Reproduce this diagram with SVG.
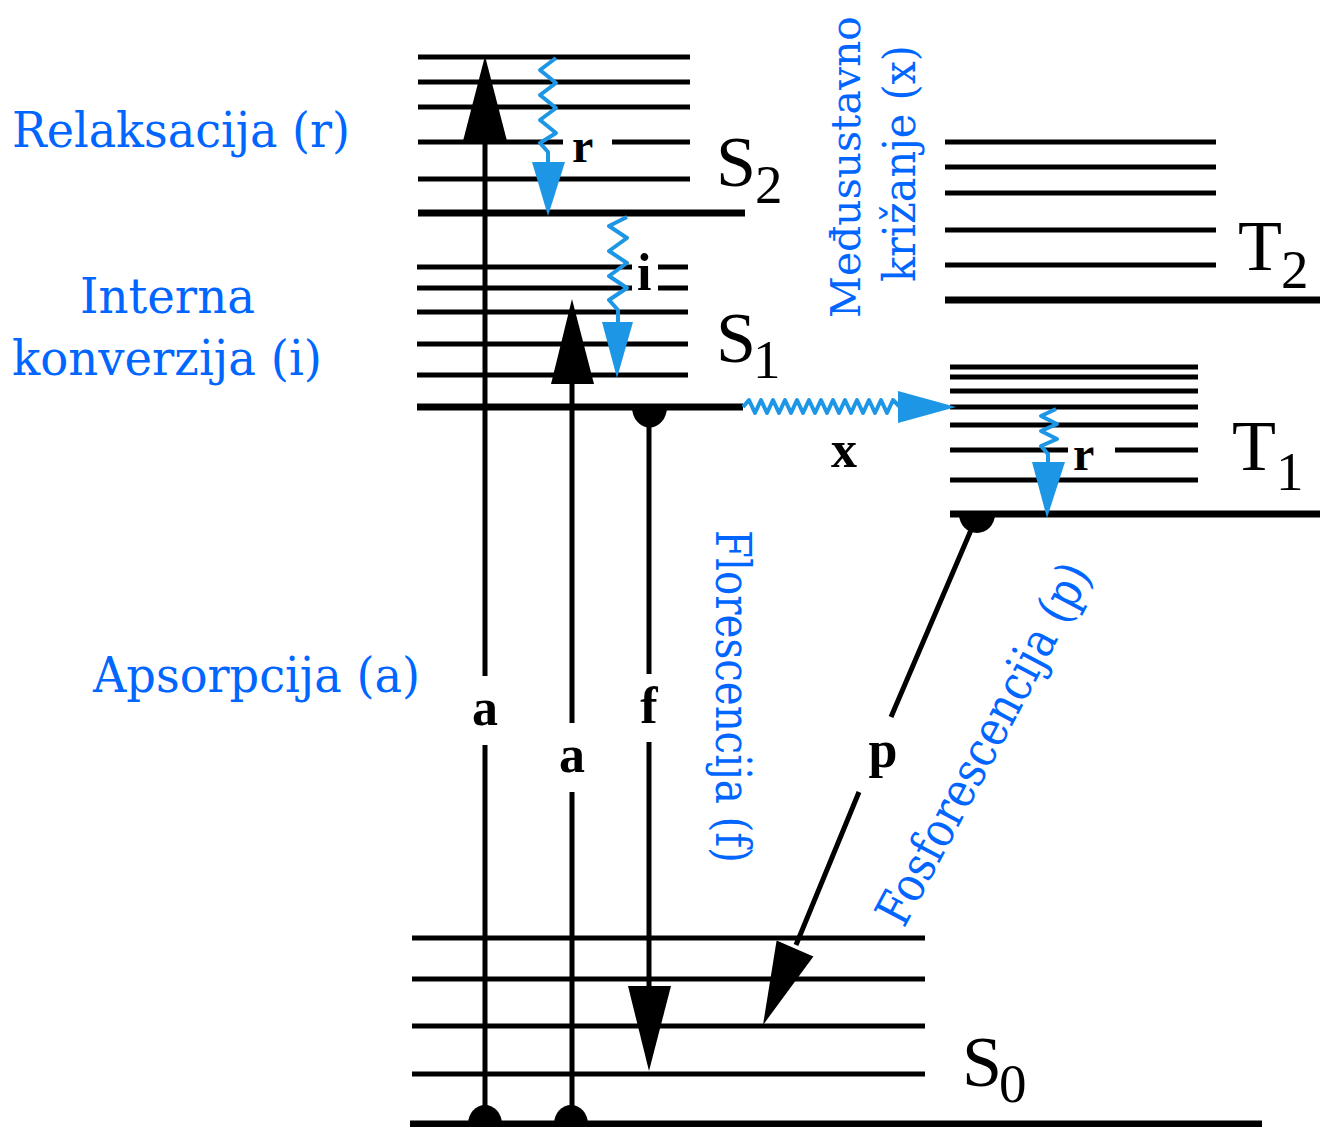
<svg xmlns="http://www.w3.org/2000/svg" width="1320" height="1127" viewBox="0 0 1320 1127">
<style>
.lv{stroke:#000;stroke-width:5;fill:none}
.lvt{stroke:#000;stroke-width:7;fill:none}
.ar{stroke:#000;stroke-width:5;fill:none}
.wv{stroke:#1e96e6;stroke-width:4;fill:none;stroke-linejoin:round}
.wh{fill:#1e96e6}
.bh{fill:#000}
.lab{font-family:"Liberation Serif","Times New Roman",serif;font-weight:bold;font-size:52px;fill:#000}
.st{font-family:"Liberation Serif","Times New Roman",serif;font-size:72px;fill:#000}
.sub{font-family:"Liberation Serif","Times New Roman",serif;font-size:55px;fill:#000}
.bt{font-family:"DejaVu Serif",serif;font-size:49px;fill:#0066ff}
.bv{font-family:"DejaVu Serif",serif;font-size:44px;fill:#0066ff}
</style>
<rect width="1320" height="1127" fill="#fff"/>
<g id="S2">
<path class="lv" d="M418,57H690M418,82H690M418,107H690M418,142H563M612,142H690M418,179H690"/>
<path class="lvt" d="M418,213H745"/>
<text class="st" x="716" y="186">S</text><text class="sub" x="755" y="203">2</text>
</g>
<g id="S1">
<path class="lv" d="M417,267H632M658,267H688M417,288H632M658,288H688M417,312H688M417,344H688M417,375H688"/>
<path class="lvt" d="M417,407H743"/>
<text class="st" x="716" y="362">S</text><text class="sub" x="753" y="378">1</text>
</g>
<g id="T2">
<path class="lv" d="M945,142H1216M945,167H1216M945,193H1216M945,230H1216M945,265H1216"/>
<path class="lvt" d="M945,300H1320"/>
<text class="st" x="1238" y="270">T</text><text class="sub" x="1281" y="288">2</text>
</g>
<g id="T1">
<path class="lv" d="M950,367H1198M950,377H1198M950,391H1198M950,407H1198M950,425H1198M950,450H1068M1115,450H1198M950,480H1198"/>
<path class="lvt" d="M950,514H1320"/>
<text class="st" x="1232" y="470">T</text><text class="sub" x="1276" y="490">1</text>
</g>
<g id="S0">
<path class="lv" d="M412,938H925M412,979H925M412,1026H925M412,1074H925"/>
<path class="lvt" d="M410,1124H1262"/>
<text class="st" x="962" y="1086">S</text><text class="sub" x="999" y="1102">0</text>
</g>
<g id="connectors">
<path class="ar" d="M485,1124V745M485,676V138"/>
<polygon class="bh" points="463,141 507,141 485,56"/>
<path class="bh" d="M468,1124A17,19 0 0 1 502,1124Z"/>
<text class="lab" x="485" y="725" text-anchor="middle">a</text>
<path class="ar" d="M572,1124V792M572,723V381"/>
<polygon class="bh" points="551,384 594,384 572,299"/>
<path class="bh" d="M554,1124A17,19 0 0 1 588,1124Z"/>
<text class="lab" x="572" y="772" text-anchor="middle">a</text>
<path class="ar" d="M649,407V674M649,742V988"/>
<polygon class="bh" points="628,986 671,986 649,1071"/>
<path class="bh" d="M632,407A17,20 0 0 0 667,407Z"/>
<text class="lab" x="649" y="723" text-anchor="middle">f</text>
<path class="ar" d="M977,516L891,717M859,792L796,945"/>
<polygon class="bh" points="776.6,940.6 813.4,956.4 763,1025"/>
<path class="bh" d="M959,514A18,19 0 0 0 995,514Z"/>
<text class="lab" x="883" y="767" text-anchor="middle">p</text>
<polyline class="wv" points="556,58 540,70 556,83 540,95 556,108 540,120 556,133 540,143 548,152 548,164"/>
<polygon class="wh" points="532,162 565,162 548,216"/>
<text class="lab" x="572" y="162" style="font-size:48px">r</text>
<polyline class="wv" points="627,217 609,226 627,238 609,251 627,263 609,276 627,288 609,300 618,310 618,323"/>
<polygon class="wh" points="602,322 633,322 617,378"/>
<text class="lab" x="637" y="290">i</text>
<polyline class="wv" points="743,407 749,400 755,413 761,400 767,413 773,400 779,413 785,400 791,413 797,400 803,413 809,400 815,413 821,400 827,413 833,400 839,413 845,400 851,413 857,400 863,413 869,400 875,413 881,400 887,413 893,400 900,407"/>
<polygon class="wh" points="898,391 898,423 956,407"/>
<text class="lab" x="844" y="467" text-anchor="middle">x</text>
<polyline class="wv" points="1056,409 1041,416 1057,424 1041,431 1057,439 1041,446 1048,454 1048,463"/>
<polygon class="wh" points="1032,462 1065,462 1047,518"/>
<text class="lab" x="1073" y="470" style="font-size:48px">r</text>
</g>
<g id="descriptions">
<text class="bt" x="12" y="147" textLength="338" lengthAdjust="spacingAndGlyphs">Relaksacija (r)</text>
<text class="bt" x="80" y="313" textLength="175" lengthAdjust="spacingAndGlyphs">Interna</text>
<text class="bt" x="12" y="375" textLength="310" lengthAdjust="spacingAndGlyphs">konverzija (i)</text>
<text class="bt" x="93" y="692" textLength="327" lengthAdjust="spacingAndGlyphs">Apsorpcija (a)</text>
<text class="bv" transform="translate(860,318) rotate(-90)" textLength="302" lengthAdjust="spacingAndGlyphs" style="font-size:41px">Međusustavno</text>
<text class="bv" transform="translate(915,282) rotate(-90)" textLength="237" lengthAdjust="spacingAndGlyphs">križanje (x)</text>
<text class="bt" transform="translate(716,530) rotate(90)" textLength="333" lengthAdjust="spacingAndGlyphs">Florescencija (f)</text>
<text class="bt" transform="translate(904,929) rotate(-62)" textLength="402" lengthAdjust="spacingAndGlyphs">Fosforescencija (p)</text>
</g>
</svg>
